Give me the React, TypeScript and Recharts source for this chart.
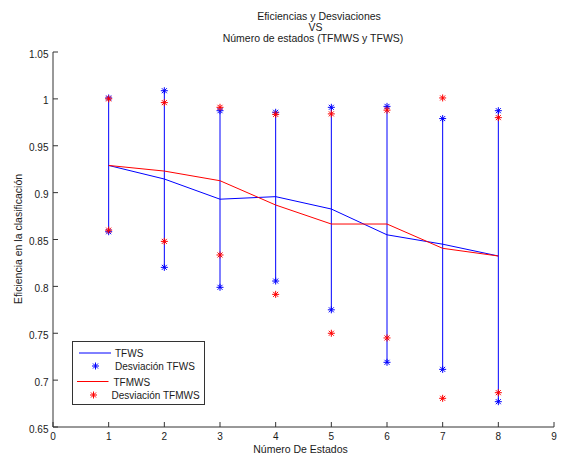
import React from 'react';
import {
  ComposedChart,
  Line,
  Scatter,
  XAxis,
  YAxis,
  ErrorBar,
  Customized,
} from 'recharts';

// ---- data ----
const states = [1, 2, 3, 4, 5, 6, 7, 8];
const tfwsMean = [0.929, 0.9145, 0.893, 0.8957, 0.8825, 0.855, 0.845, 0.8324];
const tfwsUpper = [1.001, 1.0087, 0.9874, 0.9857, 0.991, 0.992, 0.979, 0.9874];
const tfwsLower = [0.8583, 0.8203, 0.799, 0.8057, 0.775, 0.719, 0.7115, 0.677];
const tfmwsMean = [0.929, 0.923, 0.9127, 0.8868, 0.8665, 0.8665, 0.8406, 0.8324];
const tfmwsUpper = [1.0, 0.996, 0.991, 0.9835, 0.984, 0.988, 1.001, 0.98];
const tfmwsLower = [0.86, 0.848, 0.8335, 0.7915, 0.75, 0.745, 0.6806, 0.6866];

const xTicks = [0, 1, 2, 3, 4, 5, 6, 7, 8, 9];
const yTicks = [0.65, 0.7, 0.75, 0.8, 0.85, 0.9, 0.95, 1, 1.05];

const titleLines = [
  'Eficiencias y Desviaciones',
  'VS',
  'Número de estados (TFMWS y TFWS)',
];
const xLabel = 'Número De Estados';
const yLabel = 'Eficiencia en la clasificación';
const legendLabels = ['TFWS', 'Desviación TFWS', 'TFMWS', 'Desviación TFMWS'];

// ---- derived tables ----
const rows = states.map((x, i) => ({
  x,
  tfws: tfwsMean[i],
  tfwsErr: [tfwsMean[i] - tfwsLower[i], tfwsUpper[i] - tfwsMean[i]],
  tfmws: tfmwsMean[i],
}));
const blueDev = states.flatMap((x, i) => [
  { x, y: tfwsUpper[i] },
  { x, y: tfwsLower[i] },
]);
const redDev = states.flatMap((x, i) => [
  { x, y: tfmwsUpper[i] },
  { x, y: tfmwsLower[i] },
]);

const FONT = '"Liberation Sans", Arial, Helvetica, sans-serif';
const TEXT = '#1a1a1a';
const AXIS = '#333';
const BLUE = '#0000ff';
const RED = '#ff0000';

const Asterisk = ({ cx, cy, color }: { cx: number; cy: number; color: string }) => {
  if (cx == null || cy == null) return null;
  const r = 3.5;
  const d = 2.5;
  return (
    <g stroke={color} strokeWidth={1} fill="none">
      <line x1={cx - r} y1={cy} x2={cx + r} y2={cy} />
      <line x1={cx} y1={cy - r} x2={cx} y2={cy + r} />
      <line x1={cx - d} y1={cy - d} x2={cx + d} y2={cy + d} />
      <line x1={cx - d} y1={cy + d} x2={cx + d} y2={cy - d} />
    </g>
  );
};

const Decorations = () => (
  <g fontFamily={FONT} fill={TEXT}>
    <text x={319} y={20} fontSize={10.5} textAnchor="middle">{titleLines[0]}</text>
    <text x={315.5} y={31} fontSize={10.5} textAnchor="middle">{titleLines[1]}</text>
    <text x={313} y={42} fontSize={10.5} textAnchor="middle">{titleLines[2]}</text>
    <text x={300.5} y={453} fontSize={10.5} textAnchor="middle">{xLabel}</text>
    <text
      x={22}
      y={239}
      fontSize={10.5}
      textAnchor="middle"
      transform="rotate(-90, 22, 239)"
    >
      {yLabel}
    </text>
    {/* legend */}
    <rect x={72.5} y={341.5} width={132} height={63} fill="#fff" stroke={AXIS} strokeWidth={1} />
    <line x1={79} y1={353} x2={111} y2={353} stroke={BLUE} strokeWidth={1} />
    <text x={115} y={357} fontSize={10}>{legendLabels[0]}</text>
    <Asterisk cx={95.5} cy={366} color={BLUE} />
    <text x={115} y={370} fontSize={10}>{legendLabels[1]}</text>
    <line x1={77} y1={381.5} x2={108.5} y2={381.5} stroke={RED} strokeWidth={1} />
    <text x={113.5} y={385.5} fontSize={10}>{legendLabels[2]}</text>
    <Asterisk cx={93.5} cy={395} color={RED} />
    <text x={111.5} y={399} fontSize={10}>{legendLabels[3]}</text>
  </g>
);

const fmt = (v: number) => String(Number(v.toFixed(2)));
const tickStyle = { fill: TEXT, fontSize: 10, fontFamily: FONT };

export default function App() {
  return (
    <div style={{ position: 'absolute', left: 0, top: 0, background: '#fff' }}>
      <ComposedChart
        width={562}
        height={461}
        data={rows}
        margin={{ top: 52, right: 8, bottom: 0, left: 0 }}
      >
        <XAxis
          xAxisId="b"
          dataKey="x"
          type="number"
          orientation="bottom"
          domain={[0, 9]}
          ticks={xTicks}
          interval={0}
          allowDataOverflow
          height={34}
          tickSize={-5}
          tickMargin={11}
          stroke={AXIS}
          tick={tickStyle}
        />
        <XAxis
          xAxisId="t"
          dataKey="x"
          type="number"
          orientation="top"
          domain={[0, 9]}
          ticks={xTicks}
          interval={0}
          allowDataOverflow
          height={0}
          tickSize={-5}
          stroke={AXIS}
          tickFormatter={() => ''}
        />
        <YAxis
          yAxisId="l"
          type="number"
          orientation="left"
          domain={[0.65, 1.05]}
          ticks={yTicks}
          interval={0}
          allowDataOverflow
          width={53}
          tickSize={-5}
          tickMargin={9.5}
          stroke={AXIS}
          tick={{ ...tickStyle, dy: 2 }}
          tickFormatter={fmt}
        />
        <YAxis
          yAxisId="r"
          type="number"
          orientation="right"
          domain={[0.65, 1.05]}
          ticks={yTicks}
          interval={0}
          allowDataOverflow
          width={0}
          tickSize={-5}
          stroke={AXIS}
          tickFormatter={() => ''}
        />
        <Line
          xAxisId="b"
          yAxisId="l"
          dataKey="tfws"
          stroke={BLUE}
          strokeWidth={1}
          dot={false}
          activeDot={false}
          isAnimationActive={false}
          type="linear"
        >
          <ErrorBar
            dataKey="tfwsErr"
            direction="y"
            width={0}
            stroke={BLUE}
            strokeWidth={1}
            isAnimationActive={false}
          />
        </Line>
        <Scatter
          xAxisId="b"
          yAxisId="l"
          data={blueDev}
          dataKey="y"
          isAnimationActive={false}
          shape={(p: any) => <Asterisk cx={p.cx} cy={p.cy} color={BLUE} />}
        />
        <Line
          xAxisId="b"
          yAxisId="l"
          dataKey="tfmws"
          stroke={RED}
          strokeWidth={1}
          dot={false}
          activeDot={false}
          isAnimationActive={false}
          type="linear"
        />
        <Scatter
          xAxisId="b"
          yAxisId="l"
          data={redDev}
          dataKey="y"
          isAnimationActive={false}
          shape={(p: any) => <Asterisk cx={p.cx} cy={p.cy} color={RED} />}
        />
        <Customized component={Decorations} />
      </ComposedChart>
    </div>
  );
}
